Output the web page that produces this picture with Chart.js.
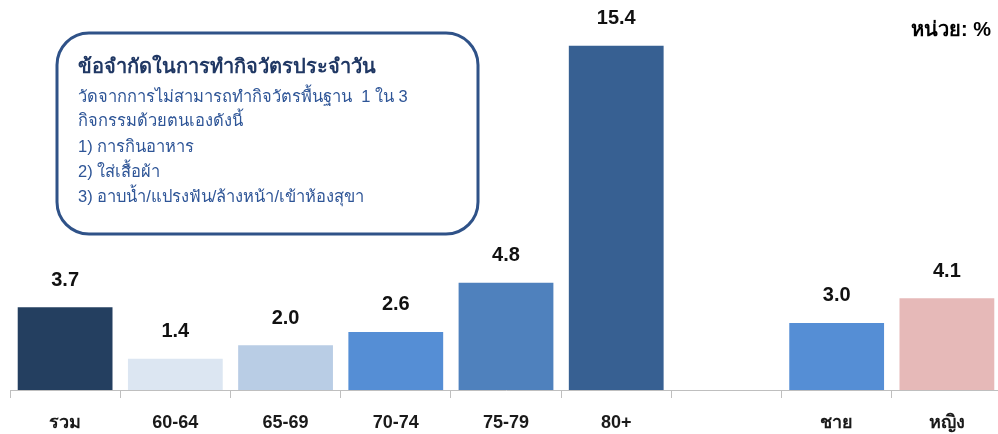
<!DOCTYPE html>
<html>
<head>
<meta charset="utf-8">
<script src="https://cdn.jsdelivr.net/npm/chart.js@4.4.0/dist/chart.umd.min.js"></script>
<style>
  html, body { margin: 0; padding: 0; background: #fff; overflow: hidden; }
  #wrap { position: relative; width: 1002px; height: 434px; }
</style>
</head>
<body>
<div id="wrap"><canvas id="chart" width="1002" height="434"></canvas></div>
<script>
// data
const categories = ['รวม', '60-64', '65-69', '70-74', '75-79', '80+', '', 'ชาย', 'หญิง'];
const values = [3.7, 1.4, 2.0, 2.6, 4.8, 15.4, null, 3.0, 4.1];
const barColors = ['#243F60', '#DCE6F2', '#B9CDE5', '#558ED5', '#4F81BD', '#376092', '#ffffff', '#558ED5', '#E6B9B8'];

const unitLabel = 'หน่วย: %';
const noteTitle = 'ข้อจำกัดในการทำกิจวัตรประจำวัน';
const noteLines = [
  'วัดจากการไม่สามารถทำกิจวัตรพื้นฐาน  1 ใน 3',
  'กิจกรรมด้วยตนเองดังนี้',
  '1) การกินอาหาร',
  '2) ใส่เสื้อผ้า',
  '3) อาบน้ำ/แปรงฟัน/ล้างหน้า/เข้าห้องสุขา'
];

const thaiFont = '"Liberation Sans", "DejaVu Sans", "Noto Sans", sans-serif';

// value labels above bars
const valueLabels = {
  id: 'valueLabels',
  afterDatasetsDraw(chart) {
    const ctx = chart.ctx;
    const meta = chart.getDatasetMeta(0);
    ctx.save();
    ctx.font = 'bold 20px "Liberation Sans", Arial, sans-serif';
    ctx.fillStyle = '#111';
    ctx.textAlign = 'center';
    ctx.textBaseline = 'bottom';
    meta.data.forEach((bar, i) => {
      if (values[i] == null) return;
      ctx.fillText(values[i].toFixed(1), bar.x, bar.y - 17);
    });
    ctx.restore();
  }
};

// note box + unit label
const annotations = {
  id: 'annotations',
  afterDraw(chart) {
    const ctx = chart.ctx;
    ctx.save();
    ctx.beginPath();
    ctx.roundRect(57, 33, 421, 201, 32);
    ctx.lineWidth = 3;
    ctx.strokeStyle = '#2F5288';
    ctx.stroke();

    ctx.textBaseline = 'middle';
    ctx.textAlign = 'left';
    ctx.fillStyle = '#203864';
    ctx.font = 'bold 20px ' + thaiFont;
    ctx.fillText(noteTitle, 78, 67);

    ctx.fillStyle = '#2E5597';
    ctx.font = '16.5px ' + thaiFont;
    const ys = [97, 121, 147, 172, 197];
    noteLines.forEach((t, i) => ctx.fillText(t, 78, ys[i]));

    ctx.fillStyle = '#000';
    ctx.font = 'bold 20px ' + thaiFont;
    ctx.textAlign = 'right';
    ctx.fillText(unitLabel, 991, 30);
    ctx.restore();
  }
};

new Chart(document.getElementById('chart'), {
  type: 'bar',
  data: {
    labels: categories,
    datasets: [{
      data: values,
      backgroundColor: barColors,
      borderWidth: 0,
      barPercentage: 0.86,
      categoryPercentage: 1.0
    }]
  },
  options: {
    responsive: false,
    animation: false,
    layout: { padding: { left: 10, right: 0, top: 0, bottom: 0 } },
    plugins: { legend: { display: false }, tooltip: { enabled: false } },
    scales: {
      x: {
        afterFit: (scale) => { scale.height = 44; },
        grid: { drawOnChartArea: false, tickLength: 8, color: '#BFBFBF', lineWidth: 1 },
        border: { display: true, color: '#BFBFBF', width: 1 },
        ticks: {
          padding: 14,
          color: '#1a1a1a',
          font: { family: '"Liberation Sans Narrow", "Liberation Sans", sans-serif', size: 18, weight: 'bold' }
        }
      },
      y: { display: false, min: 0, max: 17.45 }
    }
  },
  plugins: [valueLabels, annotations]
});
</script>
</body>
</html>
